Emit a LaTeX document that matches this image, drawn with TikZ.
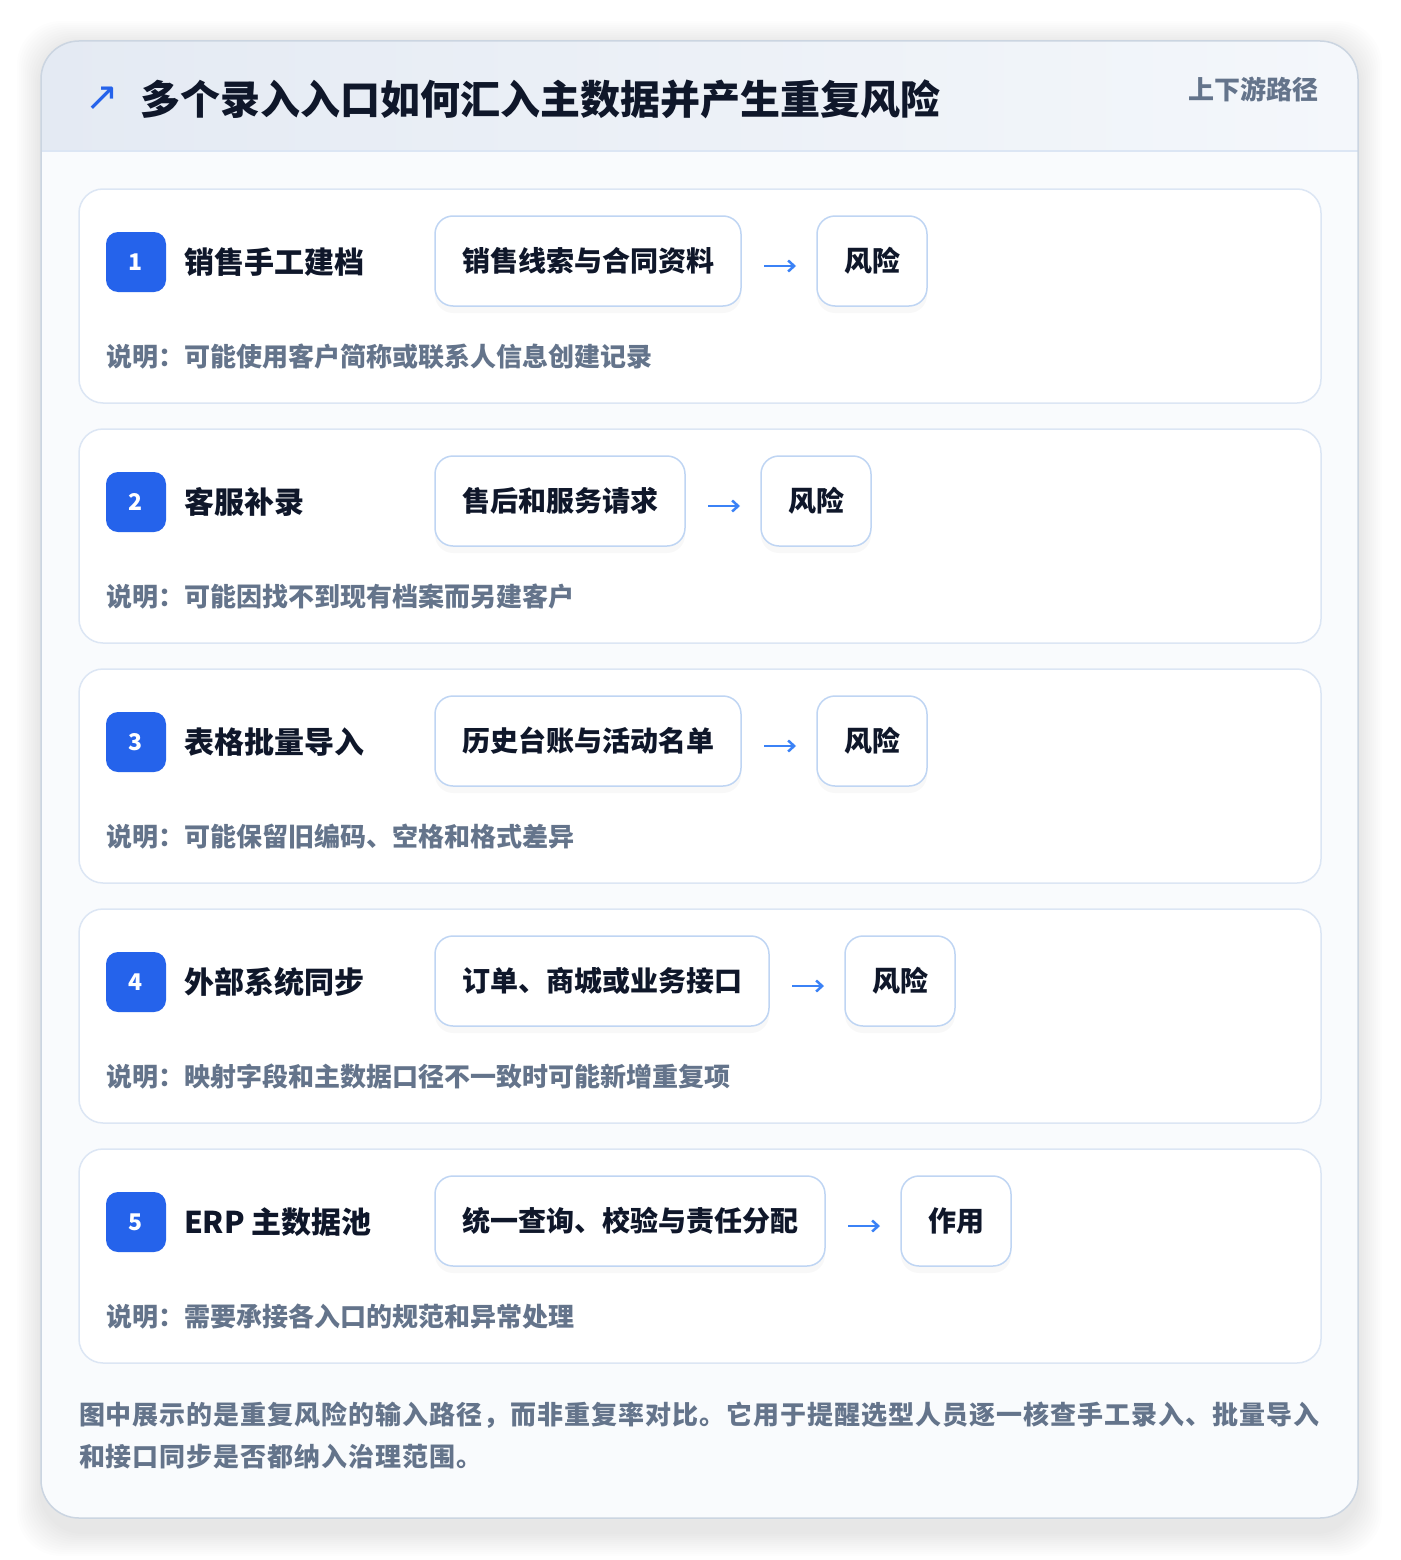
\documentclass[tikz,border=0pt]{standalone}
\usepackage{fontspec}
\setmainfont{Noto Sans CJK SC}
\newfontfamily\symfont{DejaVu Sans}
\newfontfamily\widefont{Noto Sans CJK SC}[LetterSpace=3.8]
\usepackage{xcolor}
\usepackage{tikz}
\usetikzlibrary{positioning,arrows.meta,shadows}

\definecolor{ink}{HTML}{0F172A}
\definecolor{muted}{HTML}{64748B}
\definecolor{brand}{HTML}{2563EB}
\definecolor{arrowblue}{HTML}{3B82F6}
\definecolor{cardline}{HTML}{DCE6F4}
\definecolor{boxline}{HTML}{BFD5F3}
\definecolor{frameline}{HTML}{CBD5E1}
\definecolor{headleft}{HTML}{E4EAF3}
\definecolor{headright}{HTML}{F4F7FB}
\definecolor{bodyfill}{HTML}{F9FBFD}

\newcommand{\fs}[1]{\fontsize{#1}{#1}\selectfont}

\begin{document}
\begin{tikzpicture}[
                        x=1pt, y=-1pt,
                        every node/.style={
                                inner sep=0pt,
                                outer sep=0pt,
                            },
                        badge/.style={
                                fill=brand, rounded corners=12pt,
                                minimum width=60pt, minimum height=60pt,
                                text=white, font=\fs{23}\bfseries,
                            },
                        rowlabel/.style={anchor=west, text=ink, font=\fs{30}\bfseries},
                        stepbox/.style={
                                draw=boxline, line width=1.5pt, fill=white,
                                rounded corners=18pt, minimum height=90pt, inner xsep=27pt,
                                text=ink, font=\fs{28}\bfseries,
                                drop shadow={shadow xshift=0pt, shadow yshift=-7pt, opacity=0.05},
                            },
                        card/.style={
                                draw=cardline, line width=1.5pt, fill=white,
                                rounded corners=24pt, minimum width=1242pt, minimum height=214pt,
                                anchor=north west,
                            },
                        note/.style={anchor=west, text=muted, font=\fs{26}\bfseries},
                        flow/.style={
                                arrowblue, line width=2.5pt,
                                -{Straight Barb[length=6pt,width=11pt]},
                                shorten <=23pt, shorten >=21pt,
                            },
                    ]

                    \useasboundingbox (0,0) rectangle (1400,1560);
                    \fill[white] (0,0) rectangle (1400,1560);

                    % soft shadow of the frame
                    \foreach \k in {2,4,...,24}{
                            \fill[black, opacity=0.006, rounded corners=44pt] (41-\k,45-\k) rectangle (1358+\k,1532+\k);
                        }

                    \fill[bodyfill, rounded corners=38pt] (41,41) rectangle (1358,1518);
                    \begin{scope}
                        \clip[rounded corners=38pt] (41,41) rectangle (1358,1518);
                        \fill[left color=headleft, right color=headright] (41,41) rectangle (1358,151);
                    \end{scope}
                    \draw[cardline, line width=1.5pt] (41,151) -- (1358,151);
                    \draw[frameline, line width=1.5pt, rounded corners=38pt] (41,41) rectangle (1358,1518);

                    \node[text=brand, font=\symfont\fs{40}] (icon) at (102,99) {↗};
                    \node[anchor=west, text=ink, font=\fs{40}\bfseries] (title) at (140,99) {多个录入入口如何汇入主数据并产生重复风险};
                    \node[anchor=east, text=muted, font=\fs{26}\bfseries] (tag) at (1318,89) {上下游路径};

                    \foreach \i/\lab/\src/\dst/\note in {
                            1/销售手工建档/销售线索与合同资料/风险/可能使用客户简称或联系人信息创建记录,
                            2/客服补录/售后和服务请求/风险/可能因找不到现有档案而另建客户,
                            3/表格批量导入/历史台账与活动名单/风险/可能保留旧编码、空格和格式差异,
                            4/外部系统同步/订单、商城或业务接口/风险/映射字段和主数据口径不一致时可能新增重复项,
                            5/ERP 主数据池/统一查询、校验与责任分配/作用/需要承接各入口的规范和异常处理}{
                            \pgfmathsetmacro\top{189+240*(\i-1)}
                            \node[card] (card\i) at (79,\top) {};
                            \node[badge] (b\i) at (136,\top+73) {\i};
                            \node[rowlabel] (lab\i) at (184,\top+73) {\lab};
                            \node[stepbox, anchor=west] (src\i) at (435,\top+72) {\src};
                            \node[stepbox, right=76pt of src\i] (dst\i) {\dst};
                            \draw[flow] ([yshift=-5pt]src\i.east) -- ([yshift=-5pt]dst\i.west);
                            \node[note] (note\i) at (106,\top+168) {说明：\note};
                        }

                    \node[anchor=north west, align=left, text=muted, font=\widefont\fs{26}\bfseries, execute at begin node={\baselineskip=42pt}] (summary) at (79,1402)
                    {图中展示的是重复风险的输入路径，而非重复率对比。它用于提醒选型人员逐一核查手工录入、批量导入\\和接口同步是否都纳入治理范围。};
                \end{tikzpicture}
\end{document}
